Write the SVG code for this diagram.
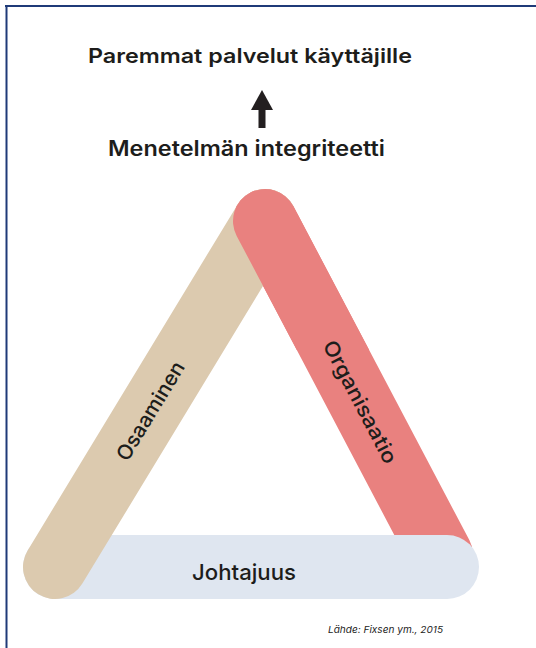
<svg xmlns="http://www.w3.org/2000/svg" width="536" height="648" viewBox="0 0 536 648">
  <style>
    .bar { fill: none; stroke-linecap: round; stroke-width: 64; }
    .t { font-family: Inter, "Noto Sans", "DejaVu Sans", sans-serif; fill: #1d1d1b; text-anchor: middle; }
    .frame { stroke: #1f3a78; stroke-width: 2; fill: none; }
  </style>
  <defs>
    <clipPath id="topClip"><rect x="0" y="0" width="536" height="350"/></clipPath>
  </defs>
  <rect width="536" height="648" fill="#ffffff"/>
  <g id="frame">
    <line class="frame" x1="5" y1="6" x2="536" y2="6"/>
    <line class="frame" x1="6.5" y1="5" x2="6.5" y2="648"/>
  </g>

  <g id="connectors">
    <g id="arrow">
      <rect x="258.5" y="106" width="7" height="22" fill="#231f20"/>
      <polygon points="262,90 273,110 251,110" fill="#231f20"/>
    </g>
  </g>

  <g id="title-top">
    <text class="t" x="250" y="63" font-size="20" font-weight="600" textLength="324" lengthAdjust="spacingAndGlyphs">Paremmat palvelut käyttäjille</text>
  </g>
  <g id="title-integrity">
    <text class="t" x="246.5" y="156" font-size="21" font-weight="600" textLength="277" lengthAdjust="spacingAndGlyphs">Menetelmän integriteetti</text>
  </g>

  <g id="organisaatio">
    <line class="bar" x1="265" y1="221" x2="441" y2="555" stroke="#e9817f"/>
  </g>
  <g id="johtajuus">
    <line class="bar" x1="55" y1="567" x2="447" y2="567" stroke="#dfe6f0"/>
    <text class="t" x="244" y="579.5" font-size="22" font-weight="500" textLength="104" lengthAdjust="spacingAndGlyphs">Johtajuus</text>
  </g>
  <g id="osaaminen">
    <line class="bar" x1="55" y1="567" x2="265" y2="221" stroke="#dccaaf"/>
    <g transform="translate(150.5,411) rotate(-58.7)">
      <text class="t" x="0" y="7" font-size="20.5" font-weight="500" textLength="112" lengthAdjust="spacingAndGlyphs">Osaaminen</text>
    </g>
  </g>
  <g id="organisaatio-top">
    <line class="bar" x1="265" y1="221" x2="441" y2="555" stroke="#e9817f" clip-path="url(#topClip)"/>
    <g transform="translate(360,402) rotate(62.3)">
      <text class="t" x="0" y="7" font-size="20.5" font-weight="500" textLength="136" lengthAdjust="spacingAndGlyphs">Organisaatio</text>
    </g>
  </g>

  <g id="source">
    <text class="t" x="385.5" y="632.5" font-size="9.5" font-style="italic" textLength="115" lengthAdjust="spacingAndGlyphs">Lähde: Fixsen ym., 2015</text>
  </g>
</svg>
